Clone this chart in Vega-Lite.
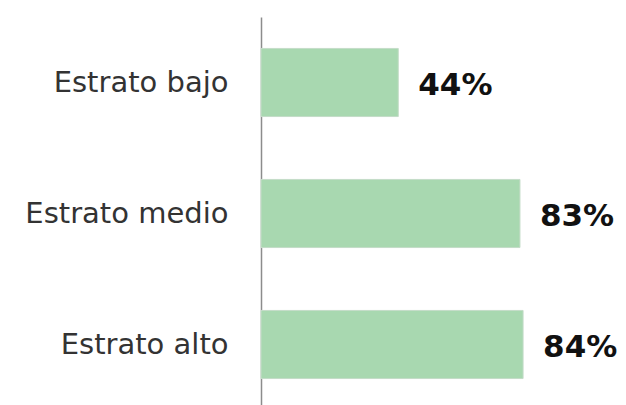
{
  "$schema": "https://vega.github.io/schema/vega-lite/v6.json",
  "autosize": {"type": "none"},
  "padding": {"left": 261, "top": 17, "right": 53, "bottom": 0},
  "width": 312,
  "height": 393,
  "background": "white",
  "config": {"view": {"stroke": null}},
  "data": {"values": [
    {"estrato": "Estrato bajo", "pct": 0.44},
    {"estrato": "Estrato medio", "pct": 0.83},
    {"estrato": "Estrato alto", "pct": 0.84}
  ]},
  "encoding": {
    "y": {"field": "estrato", "type": "nominal", "sort": null,
      "scale": {"paddingInner": 0.48, "paddingOuter": 0.24},
      "axis": {"title": null, "ticks": false, "domainColor": "#8c8c8c", "domainWidth": 1.5,
        "labelFontSize": 29, "labelFont": "DejaVu Sans", "labelColor": "#333333", "labelPadding": 33, "labelLimit": 300}},
    "x": {"field": "pct", "type": "quantitative", "scale": {"domain": [0, 1]}, "axis": null}
  },
  "layer": [
    {"mark": {"type": "bar", "color": "#a8d8b0", "stroke": "#c4dcc8", "strokeWidth": 1}},
    {"mark": {"type": "text", "align": "left", "baseline": "middle", "dx": 20, "dy": 3, "fontSize": 31, "fontWeight": "bold", "font": "DejaVu Sans", "color": "#111111"},
     "encoding": {"text": {"field": "pct", "type": "quantitative", "format": ".0%"}}}
  ]
}
